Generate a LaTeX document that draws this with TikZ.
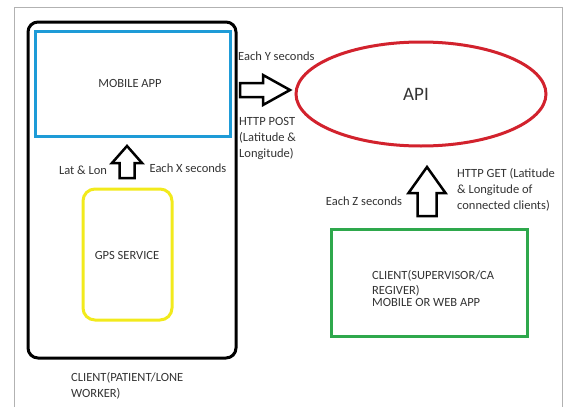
\documentclass[tikz,border=0pt]{standalone}
\usepackage{fontspec}
\setmainfont{Carlito}
\definecolor{txtgray}{HTML}{333333}
\definecolor{appblue}{HTML}{1E9BD7}
\definecolor{apired}{HTML}{D2222D}
\definecolor{gpsyellow}{HTML}{F2EA1C}
\definecolor{clientgreen}{HTML}{2EA84C}
\tikzset{
  lbl/.style={text=txtgray,font=\fontsize{12.5}{16}\selectfont,inner sep=0pt},
  lbll/.style={lbl,anchor=north west,align=left},
  blk/.style={draw=black,line width=2.5pt,fill=white,line join=miter}
}
\begin{document}
\begin{tikzpicture}[x=1pt,y=-1pt]
\useasboundingbox (0,0) rectangle (563,407);
% frame
\draw[gray!60,line width=1pt] (14,407) -- (14,7) -- (562,7) -- (562,407);
% client (patient)
\draw[line width=3pt,rounded corners=10pt] (28,22) rectangle (236,358);
\draw[appblue,line width=3pt] (35,31) rectangle (230,136);
\node[lbl] (app) at (130,83) {MOBILE APP};
\draw[gpsyellow,line width=3pt,rounded corners=12pt] (83,189) rectangle (172,320);
\node[lbl] (gps) at (127,255) {GPS SERVICE};
\node[lbll] (patient) at (71,372) {CLIENT(PATIENT/LONE\\WORKER)};
% up arrow gps -> app
\draw[blk] (127,146) -- (142,163) -- (134.5,163) -- (134.5,178) -- (119.5,178)
  -- (119.5,163) -- (112,163) -- cycle;
\node[lbl] (latlon) at (83,170) {Lat \& Lon};
\node[lbl] (eachx) at (188,168) {Each X seconds};
% right arrow app -> api
\draw[blk] (290,90) -- (263,105) -- (263,97) -- (240,97) -- (240,83)
  -- (263,83) -- (263,75) -- cycle;
\node[lbll] (eachy) at (238,52) {Each Y seconds};
\node[lbll] (post) at (239,117) {HTTP POST\\(Latitude \&\\Longitude)};
% api
\draw[apired,line width=3pt] (421,94) ellipse (125 and 52);
\node[text=txtgray,font=\fontsize{19}{22}\selectfont] (api) at (416,94) {API};
% up arrow supervisor -> api
\draw[blk] (427,167) -- (445.5,193) -- (436.5,193) -- (436.5,216) -- (417.5,216)
  -- (417.5,193) -- (408.5,193) -- cycle;
\node[lbl] (eachz) at (364,201) {Each Z seconds};
\node[lbll] (get) at (457,168) {HTTP GET (Latitude\\\& Longitude of\\connected clients)};
% client (supervisor)
\draw[clientgreen,line width=3pt] (331,229) rectangle (527,336);
\node[lbll] (super) at (372,270) {CLIENT(SUPERVISOR/CA\\[-1pt]REGIVER)\\[-4pt]MOBILE OR WEB APP};
\end{tikzpicture}
\end{document}
